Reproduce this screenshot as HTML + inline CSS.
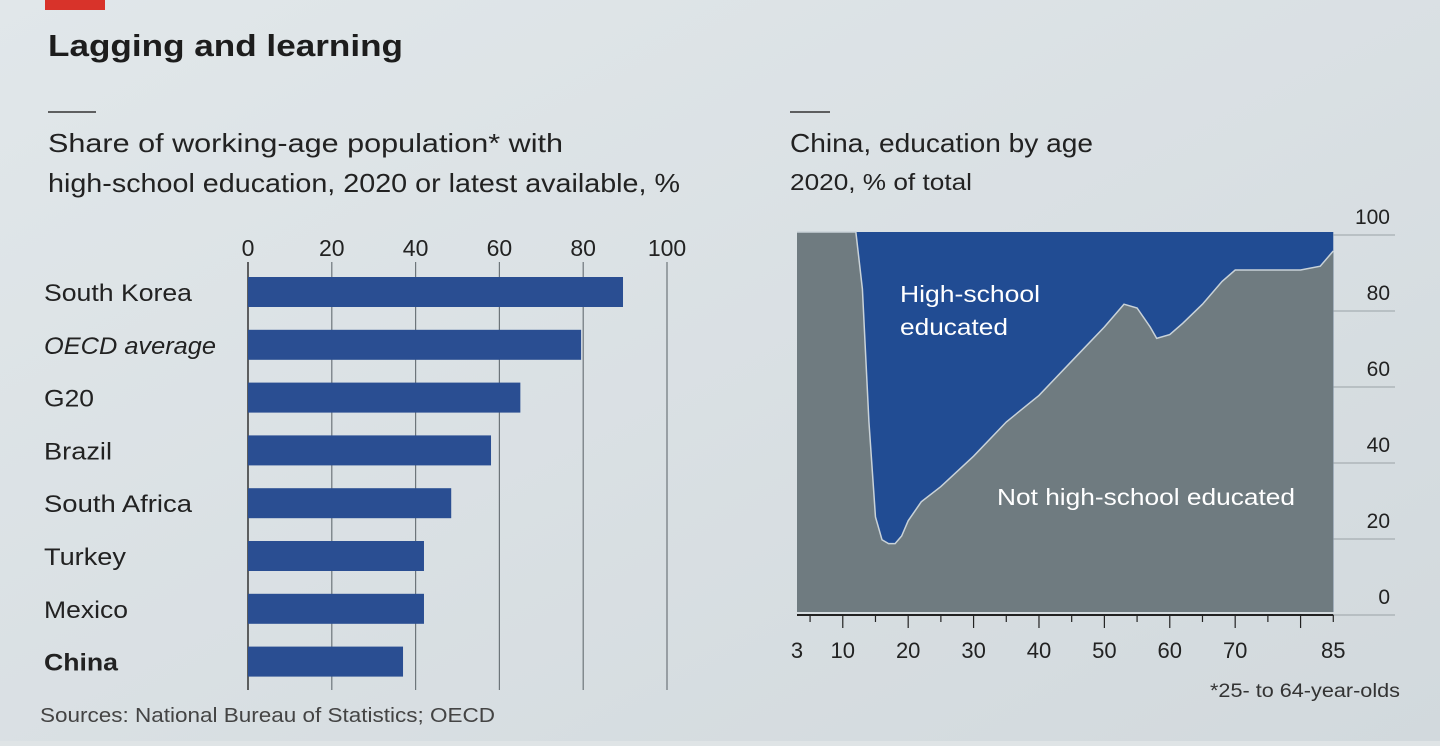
<!DOCTYPE html>
<html><head><meta charset="utf-8"><style>
body{margin:0;width:1440px;height:741px;overflow:hidden;background:#dfe4e6;font-family:"Liberation Sans",sans-serif}
</style></head><body>
<svg id="s" width="1440" height="741" xmlns="http://www.w3.org/2000/svg">
<defs><linearGradient id="bg" x1="0" x2="1" y1="0" y2="1"><stop offset="0" stop-color="#e1e7ea"/><stop offset="1" stop-color="#d2d9dd"/></linearGradient></defs>
<rect width="1440" height="741" fill="url(#bg)"/>
<rect x="45" y="0" width="60" height="10" fill="#d8332a"/>
<text x="48" y="56" font-size="31" font-weight="bold" fill="#1d1d1d" textLength="355" lengthAdjust="spacingAndGlyphs">Lagging and learning</text>
<line x1="48" y1="112" x2="96" y2="112" stroke="#333" stroke-width="1.5"/>
<line x1="790" y1="112" x2="830" y2="112" stroke="#333" stroke-width="1.5"/>
<text x="48" y="152" font-size="26" fill="#222" textLength="515" lengthAdjust="spacingAndGlyphs">Share of working-age population* with</text>
<text x="48" y="192" font-size="26" fill="#222" textLength="632" lengthAdjust="spacingAndGlyphs">high-school education, 2020 or latest available, %</text>
<text x="790" y="152" font-size="26" fill="#222" textLength="303" lengthAdjust="spacingAndGlyphs">China, education by age</text>
<text x="790" y="190" font-size="23" fill="#222" textLength="182" lengthAdjust="spacingAndGlyphs">2020, % of total</text>
<g id="left"></g><g id="right"></g>
<text x="40" y="722" font-size="20" fill="#444" textLength="455" lengthAdjust="spacingAndGlyphs">Sources: National Bureau of Statistics; OECD</text>
<text x="1210" y="697" font-size="19" fill="#333" textLength="190" lengthAdjust="spacingAndGlyphs">*25- to 64-year-olds</text>
</svg>
<script>
const categories=["South Korea","OECD average","G20","Brazil","South Africa","Turkey","Mexico","China"];
const shares=[89.5,79.5,65,58,48.5,42,42,37];
const xTicks=[0,20,40,60,80,100];
const ages=[3,12,13,14,15,16,17,18,19,20,22,25,30,35,40,45,50,53,55,57,58,60,62,65,68,70,75,80,83,85];
const notHS=[100,100,85,50,25,19,18,18,20,24,29,33,41,50,57,66,75,81,80,75,72,73,76,81,87,90,90,90,91,95];
const ageTicks=[3,10,20,30,40,50,60,70,85];
const yTicks=[0,20,40,60,80,100];
const labelWidths={"South Korea":148,"OECD average":172,"G20":50,"Brazil":68,"South Africa":148,"Turkey":82,"Mexico":84,"China":74};
const NS="http://www.w3.org/2000/svg";
function mk(t,a,p,txt){const e=document.createElementNS(NS,t);for(const k in a)e.setAttribute(k,a[k]);if(txt!=null)e.textContent=txt;p.appendChild(e);return e;}
const L=document.getElementById('left'),R=document.getElementById('right');
const bx=v=>248+v*4.19;
xTicks.forEach(t=>{
 const g=mk('line',{x1:bx(t),x2:bx(t),y1:262,y2:690,stroke:t==0?'#333':'#6d757a','stroke-width':t==0?1.5:1.2},L);
 
 const l=mk('text',{x:bx(t),y:256,'font-size':23,'text-anchor':'middle',fill:'#222'},L,t);
 
});
categories.forEach((c,i)=>{
 const cy=292+i*52.8;
 const b=mk('rect',{x:bx(0),y:cy-15,width:bx(shares[i])-bx(0),height:30,fill:'#2a4e92'},L);
 
 const a={x:44,y:cy+9,'font-size':24,fill:'#222',textLength:labelWidths[c],lengthAdjust:'spacingAndGlyphs'};
 if(c=='OECD average')a['font-style']='italic';if(c=='China')a['font-weight']='bold';
 const t=mk('text',a,L,c);
 
});
const ax=a=>797+(a-3)*6.54, ay=v=>612-v*3.8;
const bg=mk('rect',{x:ax(3),y:ay(100),width:ax(85)-ax(3),height:ay(0)-ay(100),fill:'#214c93'},R);

let d='M'+ax(3)+','+ay(0);ages.forEach((a,i)=>d+=' L'+ax(a)+','+ay(notHS[i]));d+=' L'+ax(85)+','+ay(0)+'Z';
const ar=mk('path',{d:d,fill:'#6f7b80'},R);

let ld='';ages.forEach((a,i)=>ld+=(i?' L':'M')+ax(a)+','+ay(notHS[i]));
const ln=mk('path',{d:ld,fill:'none',stroke:'#c9d2d8','stroke-width':1.5},R);

yTicks.forEach(t=>{
 const l=mk('line',{x1:ax(85),x2:1395,y1:ay(t)+3,y2:ay(t)+3,stroke:'#9aa2a6','stroke-width':1},R);
 
 const tx=mk('text',{x:1390,y:ay(t)-8,'font-size':21,'text-anchor':'end',fill:'#222'},R,t);
 
});
const base=mk('line',{x1:ax(3),x2:ax(85),y1:615,y2:615,stroke:'#222','stroke-width':2},R);

for(let a=5;a<=85;a+=5){const tk=mk('line',{x1:ax(a),x2:ax(a),y1:615,y2:a%10==0?628:622,stroke:'#222','stroke-width':1.2},R);
 }
ageTicks.forEach(a=>{const t=mk('text',{x:ax(a),y:658,'font-size':22,'text-anchor':'middle',fill:'#222'},R,a);
 });
[['High-school',900,302,140],['educated',900,335,108]].forEach(v=>{const t=mk('text',{x:v[1],y:v[2],'font-size':23,fill:'#fff',textLength:v[3],lengthAdjust:'spacingAndGlyphs'},R,v[0]);
 });
const nl=mk('text',{x:997,y:505,'font-size':23,fill:'#fff',textLength:298,lengthAdjust:'spacingAndGlyphs'},R,'Not high-school educated');

</script>
</body></html>
